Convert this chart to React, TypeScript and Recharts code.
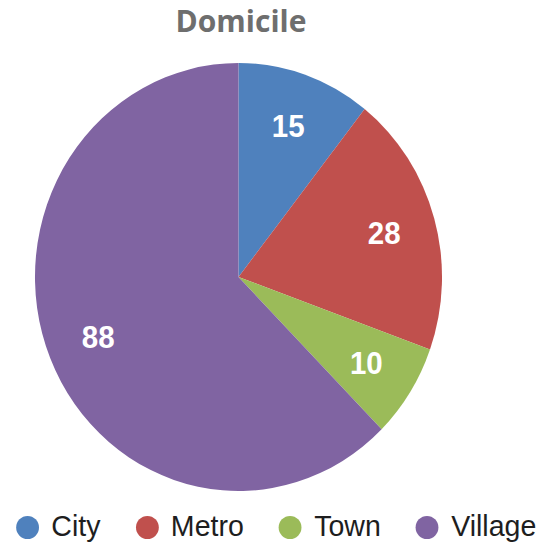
import React from "react";
import { PieChart, Pie, Cell, Legend } from "recharts";

const categories = ["City", "Metro", "Town", "Village"];
const counts = [15, 28, 10, 88];
const colors = ["#4f81bd", "#c0504d", "#9bbb59", "#8064a2"];

const data = categories.map((name, i) => ({ name, value: counts[i] }));

const RADIAN = Math.PI / 180;
// the original picture is a little narrower than it is tall
const SQUEEZE = 0.951;

const renderLabel = (props: any) => {
  const { cx, cy, midAngle, outerRadius, value } = props;
  const r = outerRadius * 0.745;
  const x = cx + r * Math.cos(-midAngle * RADIAN);
  const y = cy + r * Math.sin(-midAngle * RADIAN);
  return (
    <text
      x={x}
      y={y}
      fill="#ffffff"
      textAnchor="middle"
      dominantBaseline="central"
      fontFamily="'Liberation Sans', Arial, sans-serif"
      fontWeight="bold"
      fontSize={31}
    >
      {value}
    </text>
  );
};

const CustomLegend: React.FC<any> = ({ payload }) => {
  return (
    <div
      style={{
        display: "flex",
        flexDirection: "row",
        alignItems: "center",
        gap: 37,
        fontFamily: "'Liberation Sans', Arial, sans-serif",
        fontSize: 30,
        lineHeight: "34px",
        color: "#1e1e1e",
        whiteSpace: "nowrap",
      }}
    >
      {(payload || []).map((entry: any, i: number) => (
        <div key={i} style={{ display: "flex", alignItems: "center" }}>
          <span
            style={{
              display: "inline-block",
              width: 24,
              height: 23,
              borderRadius: "50%",
              background: entry.color,
              marginRight: 13,
              marginTop: 2,
            }}
          />
          <span>{entry.value}</span>
        </div>
      ))}
    </div>
  );
};

export default function App() {
  return (
    <div
      style={{
        position: "absolute",
        left: 0,
        top: 0,
        width: 544,
        height: 545,
        background: "#ffffff",
        overflow: "hidden",
      }}
    >
      <div
        style={{
          position: "absolute",
          left: 0,
          width: 482,
          top: 1,
          textAlign: "center",
          fontFamily: "'Open Sans', sans-serif",
          fontWeight: 700,
          fontSize: 30,
          color: "#6e6e6e",
          lineHeight: "40px",
        }}
      >
        Domicile
      </div>
      <div
        style={{
          position: "absolute",
          left: 0,
          top: 0,
          transform: `scaleX(${SQUEEZE})`,
          transformOrigin: "0 0",
        }}
      >
        <PieChart width={572} height={545} margin={{ top: 0, right: 0, bottom: 0, left: 0 }}>
          <Pie
            data={data}
            dataKey="value"
            nameKey="name"
            cx={238.5 / SQUEEZE}
            cy={277}
            outerRadius={214}
            startAngle={90}
            endAngle={-270}
            stroke="none"
            label={renderLabel}
            labelLine={false}
            isAnimationActive={false}
          >
            {data.map((d, i) => (
              <Cell key={d.name} fill={colors[i]} />
            ))}
          </Pie>
          <Legend
            content={<CustomLegend />}
            wrapperStyle={{ position: "absolute", left: 17, top: 509, width: 570 }}
          />
        </PieChart>
      </div>
    </div>
  );
}
